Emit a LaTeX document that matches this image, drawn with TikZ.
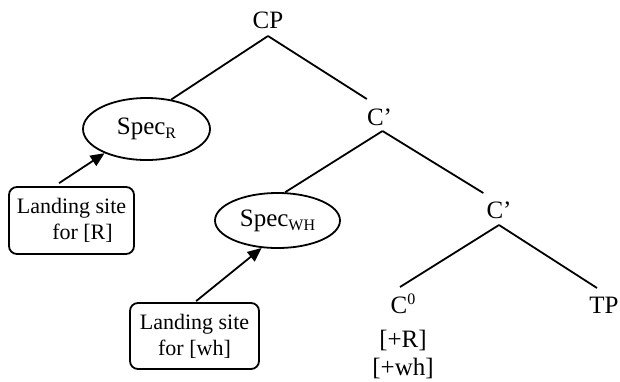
\documentclass[tikz,border=0pt]{standalone}
\usepackage{fontspec}
\setmainfont{Liberation Serif}
\usetikzlibrary{arrows.meta,calc,shapes.geometric}
\newcommand{\lowsub}[1]{\raisebox{-4pt}{\fontsize{16}{16}\selectfont #1}}
\newcommand{\highsup}[1]{\raisebox{9pt}{\fontsize{16}{16}\selectfont #1}}
\begin{document}
\begin{tikzpicture}[x=1pt,y=-1pt,
  lbl/.style={inner sep=0pt, anchor=base, font=\fontsize{25}{28}\selectfont},
  spec/.style={draw, ellipse, line width=1.8pt, inner sep=0pt, font=\fontsize{25}{28}\selectfont},
  site/.style={draw, rounded corners=8pt, line width=1.8pt, align=center, inner sep=0pt, font=\fontsize{22}{26}\selectfont},
  branch/.style={line width=1.8pt},
  move/.style={line width=1.8pt, -{Triangle[length=14pt,width=12pt]}}]
\useasboundingbox (0,0) rectangle (620,381);

% tree labels
\node[lbl] (CP) at (268,28) {CP};
\node[lbl] (C1) at (379.5,125) {C’};
\node[lbl] (C2) at (499,218) {C’};
\node[lbl] (C0) at (403,313) {C\highsup{0}};
\node[lbl] (TP) at (604,313) {TP};
\node[lbl] (f1) at (403,347) {[+R]};
\node[lbl] (f2) at (403,375) {[+wh]};

% specifiers
\node[spec, minimum width=127pt, minimum height=62pt] (specR) at (146.5,129) {Spec\lowsub{R}};
\node[spec, minimum width=125pt, minimum height=55pt] (specWH) at (277.5,220.5) {Spec\lowsub{WH}};

% landing site boxes
\node[site, minimum width=125pt, minimum height=67pt] (boxR) at (71.5,220.5) {Landing site\\\hspace*{22pt}for [R]};
\node[site, minimum width=129pt, minimum height=66pt] (boxWH) at (194.5,336) {Landing site\\for [wh]};

% branch points
\coordinate (cpB) at ($(CP.base)+(0,8)$);
\coordinate (c1T) at ($(C1.base west)+(0,-26)$);
\coordinate (c1B) at ($(C1.base)+(3,6)$);
\coordinate (c2T) at ($(C2.base west)+(-3,-25)$);
\coordinate (c2B) at ($(C2.base)+(0,7)$);
\coordinate (c0T) at ($(C0.base)+(-3,-26)$);
\coordinate (tpT) at ($(TP.base)+(-7,-25)$);

\draw[branch] (cpB) -- (specR.50);
\draw[branch] (cpB) -- (c1T);
\draw[branch] (c1B) -- (specWH.75);
\draw[branch] (c1B) -- (c2T);
\draw[branch] (c2B) -- (c0T);
\draw[branch] (c2B) -- (tpT);

% movement arrows
\draw[move] ($(boxR.north west)+(51,-3)$) -- (specR.210);
\draw[move] ($(boxWH.north west)+(67,-1)$) -- (specWH.240);
\end{tikzpicture}
\end{document}
